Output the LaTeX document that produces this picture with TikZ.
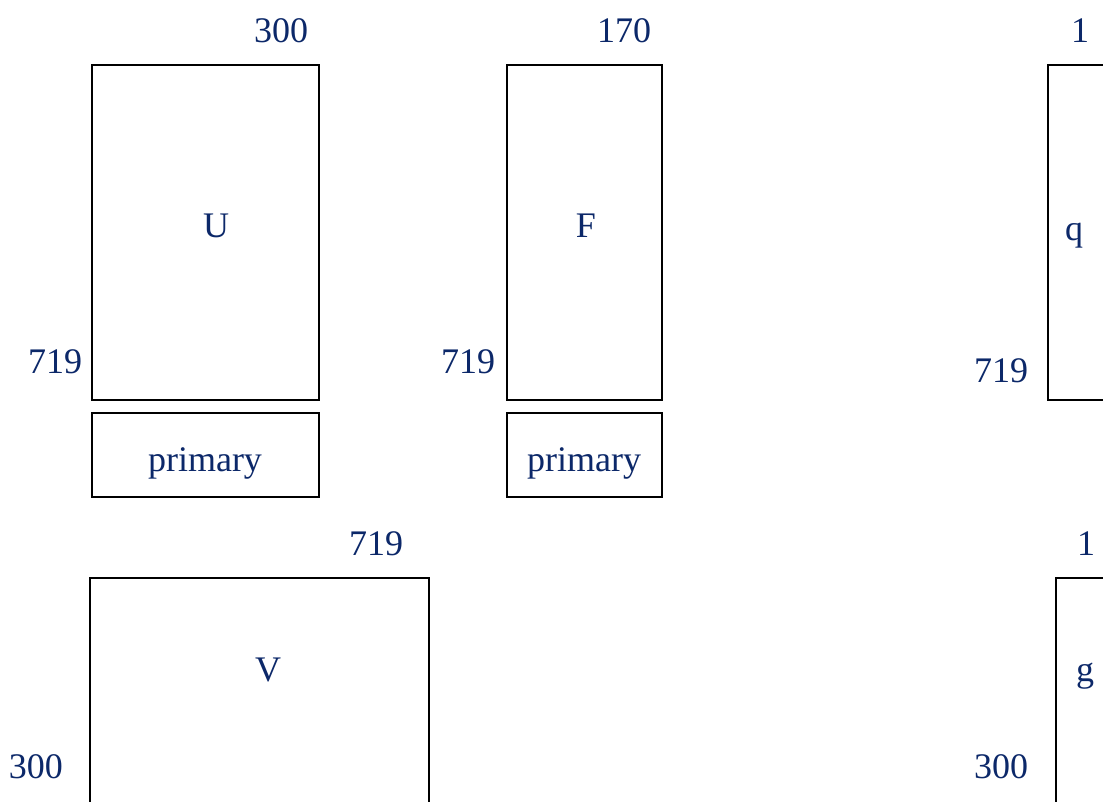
\documentclass[tikz,border=0pt]{standalone}
\usepackage{fontspec}
\setmainfont{Liberation Serif}
\definecolor{navy}{RGB}{12,40,105}
\begin{document}
\begin{tikzpicture}[x=1pt,y=-1pt,
  box/.style={draw=black, line width=1.5pt, inner sep=0pt, rectangle},
  lbl/.style={text=navy, font=\fontsize{36}{40}\selectfont, inner sep=0pt, anchor=base}]
\useasboundingbox (0,0) rectangle (1103,801);
% boxes
\node[box, minimum width=227pt, minimum height=335pt] (U) at (205.5,232.5) {};
\node[box, minimum width=227pt, minimum height=84pt] (pU) at (205.5,455) {};
\node[box, minimum width=155pt, minimum height=335pt] (F) at (584.5,232.5) {};
\node[box, minimum width=155pt, minimum height=84pt] (pF) at (584.5,455) {};
\node[box, minimum width=60pt, minimum height=335pt] (Q) at (1078,232.5) {};
\node[box, minimum width=339pt, minimum height=260pt] (V) at (259.5,708) {};
\node[box, minimum width=60pt, minimum height=260pt] (G) at (1086,708) {};
% texts
\node[lbl] (Ut) at (216,237) {U};
\node[lbl] (Utop) at (281,42) {300};
\node[lbl] (Uleft) at (55,373) {719};
\node[lbl] (pUt) at (205,471) {primary};
\node[lbl] (Ft) at (586,237) {F};
\node[lbl] (Ftop) at (624,42) {170};
\node[lbl] (Fleft) at (468,373) {719};
\node[lbl] (pFt) at (584,471) {primary};
\node[lbl] (Qt) at (1074,240) {q};
\node[lbl] (Qtop) at (1080,42) {1};
\node[lbl] (Qleft) at (1001,382) {719};
\node[lbl] (Vt) at (268,681) {V};
\node[lbl] (Vtop) at (376,555) {719};
\node[lbl] (Vleft) at (36,778) {300};
\node[lbl] (Gt) at (1085,681) {g};
\node[lbl] (Gtop) at (1086,555) {1};
\node[lbl] (Gleft) at (1001,778) {300};
\end{tikzpicture}
\end{document}
